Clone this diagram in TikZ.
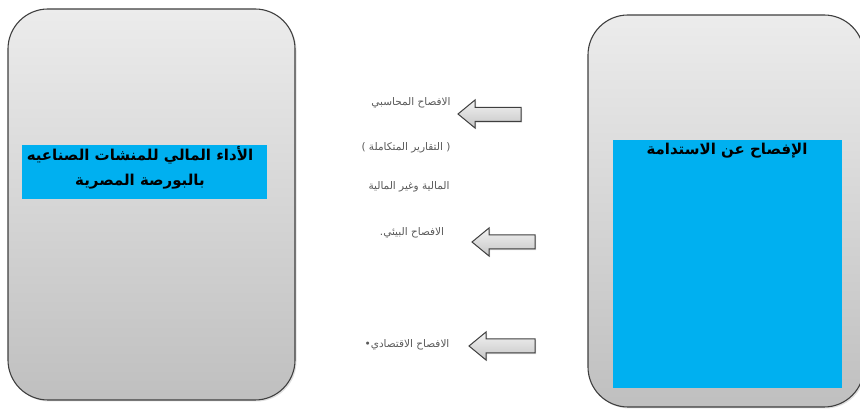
\documentclass[tikz,border=0pt]{standalone}
\usepackage{fontspec}
\TeXXeTstate=1
\newfontfamily\arabicfont[Script=Arabic]{DejaVu Sans}
\usetikzlibrary{shadows}
\definecolor{skyblue}{HTML}{00B0F0}
\definecolor{edgegray}{HTML}{3F3F3F}
\definecolor{txtgray}{HTML}{595959}
\tikzset{
  panel/.style={draw=edgegray, line width=1.1pt, rounded corners=40pt,
    top color=gray!15, bottom color=gray!50,
    drop shadow={opacity=0.25, shadow xshift=1.5pt, shadow yshift=-1.5pt}},
  bluebox/.style={fill=skyblue, draw=none},
  blockarrow/.style={draw=edgegray, line width=1pt, line join=miter,
    top color=gray!10, bottom color=gray!45,
    drop shadow={opacity=0.35, shadow xshift=1.2pt, shadow yshift=-1.2pt}},
  midtext/.style={text=txtgray, font=\arabicfont\fontsize{10.5}{12}\selectfont, inner sep=0pt},
  titletext/.style={text=black, font=\arabicfont\bfseries\fontsize{15}{25}\selectfont, inner sep=0pt, align=center}
}
\begin{document}
\begin{tikzpicture}[x=1pt, y=-1pt]
\useasboundingbox (0,0) rectangle (860,411);
% panels
\path[panel] (8,9) rectangle (295,400);
\path[panel] (588,15) rectangle (864,407);
% blue boxes
\path[bluebox] (22,145) rectangle (267,199);
\path[bluebox] (613,140) rectangle (842,388);
% titles
\node[titletext] (lefttitle) at (140,168) {\beginR الأداء المالي للمنشات الصناعيه\endR\\\beginR بالبورصة المصرية\endR};
\node[titletext] (righttitle) at (727,151) {\beginR الإفصاح عن الاستدامة\endR};
% middle texts
\node[midtext] (m1) at (411,103) {\beginR الافصاح المحاسبي\endR};
\node[midtext] (m2) at (406,148) {\beginR( التقارير المتكاملة )\endR};
\node[midtext] (m3) at (409,187) {\beginR المالية وغير المالية\endR};
\node[midtext] (m4) at (412,233) {\beginR الافصاح البيئي.\endR};
\node[midtext] (m5) at (407,345) {\beginR الافصاح الاقتصادي•\endR};
% block arrows pointing left
\path[blockarrow] (458,114) -- (475,100) -- (475,107.5) -- (521,107.5) -- (521,121.5) -- (475,121.5) -- (475,128) -- cycle;
\path[blockarrow] (472,242) -- (489,228) -- (489,235) -- (535,235) -- (535,249) -- (489,249) -- (489,256) -- cycle;
\path[blockarrow] (469,346) -- (486,332) -- (486,339) -- (535,339) -- (535,353) -- (486,353) -- (486,360) -- cycle;
\end{tikzpicture}
\end{document}
